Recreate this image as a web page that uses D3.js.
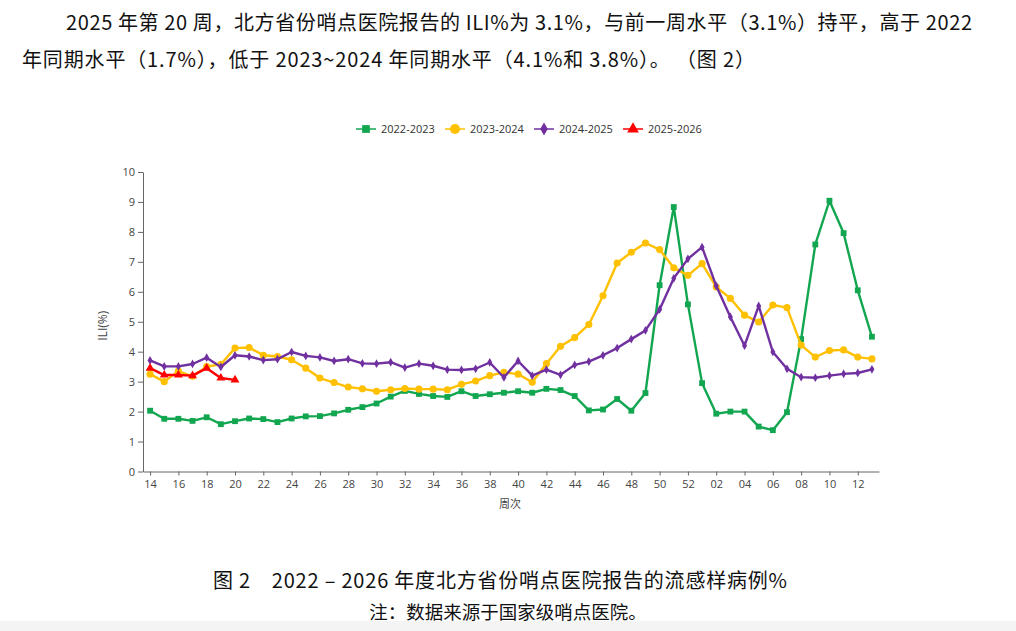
<!DOCTYPE html>
<html>
<head>
<meta charset="utf-8">
<script src="https://cdn.jsdelivr.net/npm/d3@7"></script>
<style>
  body { margin: 0; background: #fff; }
  svg { display: block; }
</style>
</head>
<body>
<div id="chart"></div>
<script>
// weeks on the x axis (season runs week 14 to week 13 of next year)
const weeks = ['14','15','16','17','18','19','20','21','22','23','24','25','26','27','28','29','30',
  '31','32','33','34','35','36','37','38','39','40','41','42','43','44','45','46','47','48','49','50',
  '51','52','01','02','03','04','05','06','07','08','09','10','11','12','13'];
const tickWeeks = weeks.filter((w, i) => i % 2 === 0);
const yTicks = [0, 1, 2, 3, 4, 5, 6, 7, 8, 9, 10];

const seasons = ['2022-2023', '2023-2024', '2024-2025', '2025-2026'];

const s2022 = [2.03, 1.76, 1.76, 1.69, 1.81, 1.58, 1.68, 1.77, 1.75, 1.65, 1.77, 1.84, 1.85, 1.94, 2.06, 2.15,
  2.27, 2.5, 2.69, 2.59, 2.52, 2.49, 2.68, 2.52, 2.58, 2.63, 2.68, 2.63, 2.76, 2.72, 2.52, 2.04, 2.07, 2.42, 2.03,
  2.62, 6.22, 8.83, 5.58, 2.95, 1.93, 2.0, 2.0, 1.5, 1.38, 1.98, 4.42, 7.58, 9.04, 7.96, 6.05, 4.5];
const s2023 = [3.25, 3.0, 3.35, 3.18, 3.5, 3.58, 4.12, 4.14, 3.88, 3.84, 3.73, 3.45, 3.12, 2.97, 2.82, 2.76,
  2.68, 2.73, 2.77, 2.75, 2.75, 2.73, 2.91, 3.02, 3.2, 3.31, 3.25, 2.98, 3.6, 4.18, 4.47, 4.91, 5.87, 6.96, 7.32,
  7.63, 7.41, 6.8, 6.55, 6.94, 6.16, 5.78, 5.22, 4.99, 5.56, 5.47, 4.22, 3.82, 4.04, 4.06, 3.82, 3.76];
const s2024 = [3.71, 3.51, 3.51, 3.59, 3.8, 3.49, 3.88, 3.84, 3.72, 3.75, 3.99, 3.86, 3.81, 3.69, 3.75, 3.61,
  3.6, 3.65, 3.47, 3.6, 3.53, 3.4, 3.39, 3.43, 3.64, 3.14, 3.69, 3.2, 3.4, 3.23, 3.56, 3.67, 3.88, 4.12, 4.42,
  4.71, 5.41, 6.45, 7.1, 7.49, 6.2, 5.16, 4.2, 5.53, 3.99, 3.43, 3.15, 3.13, 3.2, 3.26, 3.29, 3.41];
const s2025 = [3.45, 3.22, 3.22, 3.2, 3.45, 3.12, 3.06];

const colors = ['#12a650', '#ffc000', '#7030a0', '#ff0000'];
const symbols = [d3.symbolSquare, d3.symbolCircle, d3.symbolDiamond, d3.symbolTriangle];
const symbolSizes = [34, 40, 22, 34];

const series = [s2022, s2023, s2024, s2025].map((vals, i) => ({
  name: seasons[i],
  color: colors[i],
  symbol: symbols[i],
  size: symbolSizes[i],
  values: vals.map((v, j) => ({ week: weeks[j], value: v }))
}));

const width = 1016, height = 631;
const svg = d3.select('#chart').append('svg')
  .attr('width', width)
  .attr('height', height)
  .style('font-family', '"Noto Sans CJK SC", "Noto Sans", sans-serif');

// bottom grey band
svg.append('rect')
  .attr('x', 0).attr('y', 621).attr('width', width).attr('height', 10)
  .attr('fill', '#f4f4f4');

// paragraph above the chart
const para = svg.append('g').attr('fill', '#111').style('font-size', '20px');
para.append('text').attr('x', 66).attr('y', 30)
  .attr('textLength', 906).attr('lengthAdjust', 'spacing')
  .text('2025 年第 20 周，北方省份哨点医院报告的 ILI%为 3.1%，与前一周水平（3.1%）持平，高于 2022');
para.append('text').attr('x', 22).attr('y', 67)
  .attr('textLength', 733).attr('lengthAdjust', 'spacing')
  .text('年同期水平（1.7%），低于 2023~2024 年同期水平（4.1%和 3.8%）。 （图 2）');

const margin = { top: 172, left: 143, right: 879, bottom: 471.5 };

const x = d3.scalePoint()
  .domain(weeks)
  .range([margin.left, margin.right])
  .padding(0.5);

const y = d3.scaleLinear()
  .domain([0, 10])
  .range([margin.bottom, margin.top]);

const axisColor = '#666';

const gx = svg.append('g')
  .attr('transform', `translate(0,${margin.bottom})`)
  .call(d3.axisBottom(x).tickValues(tickWeeks).tickSize(4).tickSizeOuter(0));
gx.select('.domain').attr('stroke', axisColor);
gx.selectAll('.tick line').attr('stroke', axisColor);
gx.selectAll('text').attr('fill', '#444').style('font-size', '11px').style('font-family', '"Open Sans", sans-serif').attr('dy', '0.9em');

const gy = svg.append('g')
  .attr('transform', `translate(${margin.left},0)`)
  .call(d3.axisLeft(y).tickValues(yTicks).tickSize(5).tickSizeOuter(0));
gy.select('.domain').attr('stroke', axisColor);
gy.selectAll('.tick line').attr('stroke', axisColor);
gy.selectAll('text').attr('fill', '#444').style('font-size', '11px').style('font-family', '"Open Sans", sans-serif');

svg.append('text')
  .attr('transform', `translate(107,${(margin.top + margin.bottom) / 2 + 4}) rotate(-90)`)
  .attr('text-anchor', 'middle')
  .attr('fill', '#444')
  .style('font-size', '12px')
  .style('font-family', '"Open Sans", sans-serif')
  .text('ILI(%)');

svg.append('text')
  .attr('x', 510).attr('y', 508)
  .attr('text-anchor', 'middle')
  .attr('fill', '#444')
  .style('font-size', '11px')
  .text('周次');

const line = d3.line()
  .x(d => x(d.week))
  .y(d => y(d.value));

const gSeries = svg.selectAll('.series')
  .data(series)
  .enter()
  .append('g')
  .attr('class', 'series');

gSeries.append('path')
  .attr('d', d => line(d.values))
  .attr('fill', 'none')
  .attr('stroke', d => d.color)
  .attr('stroke-width', 2.4)
  .attr('stroke-linejoin', 'round');

gSeries.each(function (s) {
  d3.select(this).selectAll('.pt')
    .data(s.values)
    .enter()
    .append('path')
    .attr('class', 'pt')
    .attr('transform', d => `translate(${x(d.week)},${y(d.value)})`)
    .attr('d', d3.symbol().type(s.symbol).size(s.size))
    .attr('fill', s.color);
});

// legend
const legendX = [356, 445, 534, 623];
const legend = svg.selectAll('.legend')
  .data(series)
  .enter()
  .append('g')
  .attr('class', 'legend')
  .attr('transform', (d, i) => `translate(${legendX[i]},129)`);

legend.append('line')
  .attr('x1', 0).attr('x2', 20)
  .attr('stroke', d => d.color)
  .attr('stroke-width', 1.5);

legend.append('path')
  .attr('transform', 'translate(10,0)')
  .attr('d', (d, i) => d3.symbol().type(d.symbol).size([60, 80, 50, 60][i])())
  .attr('fill', d => d.color);

legend.append('text')
  .attr('x', 25).attr('dy', '0.35em')
  .attr('fill', '#333')
  .style('font-size', '11px')
  .style('font-family', '"Open Sans", sans-serif')
  .text(d => d.name);

// caption
svg.append('text')
  .attr('x', 213).attr('y', 588)
  .attr('textLength', 574).attr('lengthAdjust', 'spacing')
  .attr('fill', '#111')
  .style('font-size', '20px')
  .text('图 2　2022 – 2026 年度北方省份哨点医院报告的流感样病例%');

svg.append('text')
  .attr('x', 508).attr('y', 619)
  .attr('text-anchor', 'middle')
  .attr('fill', '#111')
  .style('font-size', '18.5px')
  .text('注：数据来源于国家级哨点医院。');
</script>
</body>
</html>
